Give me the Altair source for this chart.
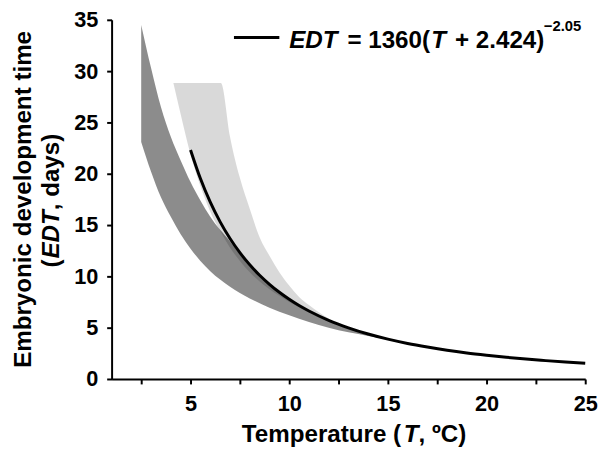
import altair as alt
import pandas as pd

# ---- data ----
curve_T = [5, 5.5, 6, 6.5, 7, 7.5, 8, 8.5, 9, 9.5, 10, 10.5, 11, 12, 13, 14, 15,
           16, 17, 18, 19, 20, 21, 22, 23, 24, 25]
curve_EDT = [22.32, 19.53, 17.23, 15.31, 13.69, 12.31, 11.13, 10.11, 9.23, 8.45,
             7.77, 7.16, 6.63, 5.72, 4.99, 4.38, 3.88, 3.46, 3.11, 2.80, 2.54,
             2.32, 2.12, 1.94, 1.79, 1.65, 1.53]

dark_T = [2.5, 3, 3.5, 4, 4.5, 5, 5.5, 6, 7, 8, 9, 10, 11, 12, 13, 14, 15]
dark_upper = [34.5, 30.3, 26.5, 23.6, 21.3, 19.2, 17.4, 15.8, 13.4, 10.95, 9.15,
              7.7, 6.55, 5.65, 4.95, 4.35, 3.9]
dark_lower = [23.1, 20.2, 17.7, 15.8, 14.1, 12.7, 11.5, 10.5, 9.0, 7.85, 6.95,
              6.2, 5.55, 5.0, 4.55, 4.2, 3.85]

light_T = [4.13, 4.5, 5, 5.5, 6, 6.54, 7, 7.5, 8, 8.5, 9, 9.5, 10, 10.5, 11,
           11.5, 12]
light_upper = [28.85, 28.85, 28.85, 28.85, 28.85, 28.85, 23.6, 19.6, 16.6, 13.8,
               12.0, 10.4, 9.1, 8.0, 7.2, 6.5, 5.9]
light_lower = [28.85, 25.8, 21.9, 18.8, 16.3, 14.3, 12.8, 11.5, 10.4, 9.5, 8.75,
               8.1, 7.5, 7.0, 6.5, 6.1, 5.7]

x_ticks = [2.5, 5, 7.5, 10, 12.5, 15, 17.5, 20, 22.5, 25]
y_ticks = [0, 2.5, 5, 7.5, 10, 12.5, 15, 17.5, 20, 22.5, 25, 27.5, 30, 32.5, 35]

FONT = "Liberation Sans"

curve_df = pd.DataFrame({"T": curve_T, "EDT": curve_EDT})
dark_df = pd.DataFrame({"T": dark_T, "lo": dark_lower, "hi": dark_upper})
light_df = pd.DataFrame({"T": light_T, "lo": light_lower, "hi": light_upper})

xscale = alt.Scale(domain=[1, 25], nice=False, zero=False)
yscale = alt.Scale(domain=[0, 35], nice=False)

xaxis = alt.Axis(values=x_ticks, title=None,
                 labelExpr="datum.value % 5 == 0 ? datum.label : ''",
                 labelFontSize=22, labelFontWeight="bold", labelFont=FONT,
                 labelColor="black", labelPadding=10, tickSize=5, tickWidth=2,
                 tickColor="black", domainColor="black", domainWidth=2,
                 grid=False, labelFlush=False)
yaxis = alt.Axis(values=y_ticks, title=None,
                 labelExpr="datum.value % 5 == 0 ? datum.label : ''",
                 labelFontSize=22, labelFontWeight="bold", labelFont=FONT,
                 labelColor="black", labelPadding=9, tickSize=5, tickWidth=2,
                 tickColor="black", domainColor="black", domainWidth=2,
                 grid=False)

light = alt.Chart(light_df).mark_area(color="black", fillOpacity=0.15,
                                      interpolate="monotone").encode(
    x=alt.X("T:Q", scale=xscale, axis=xaxis),
    y=alt.Y("lo:Q", scale=yscale, axis=yaxis),
    y2="hi:Q",
)
dark = alt.Chart(dark_df).mark_area(color="black", fillOpacity=0.45,
                                    interpolate="monotone").encode(
    x=alt.X("T:Q", scale=xscale),
    y=alt.Y("lo:Q", scale=yscale),
    y2="hi:Q",
)
line = alt.Chart(curve_df).mark_line(color="black", strokeWidth=3,
                                     interpolate="monotone").encode(
    x=alt.X("T:Q", scale=xscale),
    y=alt.Y("EDT:Q", scale=yscale),
)

one = pd.DataFrame({"a": [0]})


def txt(s, x, y, size=24.5, italic=False, angle=0, align="left"):
    kw = dict(font=FONT, fontSize=size, fontWeight="bold", color="black",
              align=align, baseline="alphabetic")
    if italic:
        kw["fontStyle"] = "italic"
    if angle:
        kw["angle"] = angle
    return alt.Chart(one).mark_text(**kw).encode(
        x=alt.value(x), y=alt.value(y), text=alt.value(s))


legend_rule = alt.Chart(one).mark_rule(color="black", strokeWidth=3).encode(
    x=alt.value(124), x2=alt.value(170), y=alt.value(18))

texts = [
    txt("EDT", 180, 29, italic=True),
    txt("= 1360(", 239, 29),
    txt("T", 324, 29, italic=True),
    txt("+ 2.424)", 348, 29),
    txt("\u22122.05", 438, 11, size=15),
    # x title
    txt("Temperature (", 132, 428),
    txt("T", 296, 428, italic=True),
    txt(", \u00baC)", 311, 428),
    # y title
    txt("Embryonic development time", -82, 182, angle=270, align="center"),
    txt("(", -53, 251, angle=270),
    txt("EDT", -53, 242, angle=270, italic=True),
    txt(", days)", -53, 193, angle=270),
]

chart = alt.layer(light, dark, line, legend_rule, *texts).properties(
    width=480, height=364,
    autosize=alt.AutoSizeParams(type="none"),
    padding={"left": 105, "top": 9, "right": 17, "bottom": 70},
).configure_view(stroke=None)

chart.save("out.html", embed_options={"renderer": "svg", "actions": False})
